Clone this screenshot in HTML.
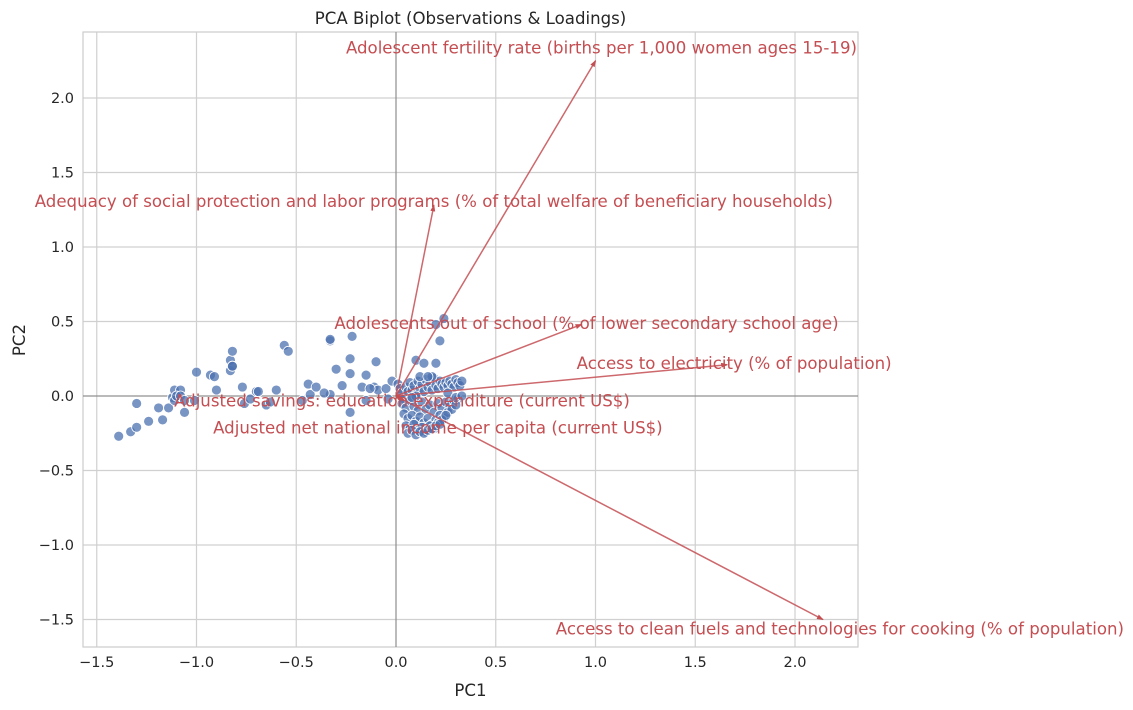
<!DOCTYPE html>
<html><head><meta charset="utf-8"><style>
body{margin:0;background:#fff;}
svg{display:block;font-family:"DejaVu Sans","Liberation Sans",sans-serif;}
</style></head><body>
<svg id="chart" width="1133" height="710" xmlns="http://www.w3.org/2000/svg">
<defs><marker id="ah" markerUnits="userSpaceOnUse" markerWidth="7" markerHeight="5" refX="6" refY="2.5" orient="auto"><path d="M0,0 L7,2.5 L0,5 Z" fill="#c44e52"/></marker></defs>
</svg>
<script>
const xTicks=[-1.5,-1.0,-0.5,0.0,0.5,1.0,1.5,2.0];
const yTicks=[-1.5,-1.0,-0.5,0.0,0.5,1.0,1.5,2.0];
const obsPC1=[-1.39,-1.33,-1.30,-1.24,-1.17,-1.30,-1.19,-1.14,-1.12,-1.11,-1.08,-1.11,-1.10,-1.08,-1.06,-1.06,-1.01,-1.00,-0.93,-0.90,-0.91,-0.83,-0.82,-0.83,-0.82,-0.82,-0.77,-0.76,-0.73,-0.70,-0.69,-0.65,-0.63,-0.60,-0.56,-0.54,-0.47,-0.43,-0.33,-0.33,-0.33,-0.23,-0.23,-0.22,-0.15,-0.17,-0.11,-0.10,-0.09,-0.23,-0.44,-0.40,-0.36,-0.30,-0.27,-0.13,-0.15,-0.05,-0.04,-0.02,
0.01,0.02,0.03,0.04,0.05,0.06,0.07,0.08,0.09,0.10,0.11,0.12,0.13,0.14,0.15,0.16,0.17,0.18,0.19,0.20,0.21,0.22,0.23,0.24,0.25,0.26,0.27,0.28,0.29,0.30,0.31,0.32,0.33,
0.03,0.05,0.07,0.09,0.11,0.13,0.15,0.17,0.19,0.21,0.23,0.25,0.27,0.29,0.31,
0.04,0.06,0.08,0.10,0.12,0.14,0.16,0.18,0.20,0.22,0.24,0.26,0.28,0.30,
0.05,0.07,0.09,0.11,0.13,0.15,0.17,0.19,0.21,0.23,0.25,
0.06,0.08,0.10,0.12,0.14,0.16,0.18,0.20,0.22,
0.10,0.14,0.18,0.20,0.24,0.12,0.16,0.22,0.20,0.10,0.08,0.26,0.30,0.33];
const obsPC2=[-0.27,-0.24,-0.21,-0.17,-0.16,-0.05,-0.08,-0.08,-0.01,0.04,0.04,-0.03,0.00,0.00,-0.03,-0.11,-0.03,0.16,0.14,0.04,0.13,0.24,0.30,0.17,0.20,0.20,0.06,-0.05,-0.02,0.03,0.03,-0.06,-0.04,0.04,0.34,0.30,-0.03,0.01,0.37,0.38,0.01,0.25,0.15,0.40,0.14,0.06,0.06,0.23,0.04,-0.11,0.08,0.06,0.02,0.18,0.07,0.05,-0.03,0.05,-0.02,0.10,
0.08,0.05,0.02,-0.02,0.06,0.03,0.09,0.04,0.07,0.01,0.10,0.05,0.08,0.03,0.11,0.06,0.09,0.04,0.12,0.07,0.05,0.10,0.08,0.06,0.09,0.07,0.10,0.08,0.06,0.11,0.09,0.07,0.10,
-0.05,-0.08,-0.03,-0.07,-0.10,-0.04,-0.09,-0.06,-0.11,-0.05,-0.08,-0.04,-0.07,-0.03,-0.02,
-0.12,-0.15,-0.13,-0.17,-0.14,-0.18,-0.15,-0.19,-0.16,-0.13,-0.15,-0.11,-0.09,-0.06,
-0.20,-0.22,-0.19,-0.23,-0.21,-0.24,-0.20,-0.22,-0.18,-0.16,-0.13,
-0.25,-0.23,-0.26,-0.24,-0.25,-0.23,-0.22,-0.20,-0.19,
0.24,0.22,0.13,0.22,0.52,0.13,0.13,0.37,0.48,0.00,-0.01,0.02,-0.01,0.00];
const loadingNames=["Adolescent fertility rate (births per 1,000 women ages 15-19)","Adequacy of social protection and labor programs (% of total welfare of beneficiary households)","Adolescents out of school (% of lower secondary school age)","Access to electricity (% of population)","Access to clean fuels and technologies for cooking (% of population)","Adjusted savings: education expenditure (current US$)","Adjusted net national income per capita (current US$)"];
const loadingPC1=[1.00,0.19,0.93,1.66,2.14,0.03,0.04];
const loadingPC2=[2.25,1.28,0.48,0.21,-1.50,-0.02,-0.03];
const labelPC1=[1.03,0.19,0.955,1.695,2.225,0.03,0.21];
const labelPC2=[2.34,1.31,0.49,0.22,-1.56,-0.03,-0.21];

const L=83,R=858,T=32,B=647;
const sx=v=>396+v*199.5, sy=v=>396-v*149;
const svg=document.getElementById('chart');const NS='http://www.w3.org/2000/svg';
function mk(tag,attrs,parent){const e=document.createElementNS(NS,tag);for(const k in attrs)e.setAttribute(k,attrs[k]);(parent||svg).appendChild(e);return e;}
mk('rect',{x:L,y:T,width:R-L,height:B-T,fill:'#fff'});
const grid=mk('g',{});


xTicks.forEach(t=>{mk('line',{x1:sx(t),x2:sx(t),y1:T,y2:B,stroke:'#d0d0d0','stroke-width':1.2},grid);
 const tx=mk('text',{x:sx(t),y:B+20,'text-anchor':'middle','font-size':14.5,fill:'#262626'});tx.textContent=t.toFixed(1).replace('-','\u2212');
 
 });
yTicks.forEach(t=>{mk('line',{x1:L,x2:R,y1:sy(t),y2:sy(t),stroke:'#d0d0d0','stroke-width':1.2},grid);
 const tx=mk('text',{x:L-9,y:sy(t)+5,'text-anchor':'end','font-size':14.5,fill:'#262626'});tx.textContent=t.toFixed(1).replace('-','\u2212');
 
 });
mk('rect',{x:L,y:T,width:R-L,height:B-T,fill:'none',stroke:'#cccccc','stroke-width':1.2});
mk('line',{x1:sx(0),x2:sx(0),y1:T,y2:B,stroke:'#808080','stroke-width':1});
mk('line',{x1:L,x2:R,y1:sy(0),y2:sy(0),stroke:'#808080','stroke-width':1});
const pts=mk('g',{});


obsPC1.forEach((v,i)=>{const c=mk('circle',{cx:sx(v),cy:sy(obsPC2[i]),r:5,fill:'#4c72b0','fill-opacity':0.75,stroke:'#fff','stroke-width':0.8},pts);
 
 });
loadingNames.forEach((n,i)=>{const l=mk('line',{x1:sx(0),y1:sy(0),x2:sx(loadingPC1[i]),y2:sy(loadingPC2[i]),stroke:'#c44e52','stroke-opacity':0.85,'stroke-width':1.5,'marker-end':'url(#ah)'});
 
 });
loadingNames.forEach((n,i)=>{const t=mk('text',{x:sx(labelPC1[i]),y:sy(labelPC2[i])+6,'text-anchor':'middle','font-size':16.6,fill:'#c44e52'});t.textContent=n;
 
 });
const title=mk('text',{x:(L+R)/2,y:24,'text-anchor':'middle','font-size':16.6,fill:'#262626'});title.textContent='PCA Biplot (Observations & Loadings)';


const xl=mk('text',{x:(L+R)/2,y:696,'text-anchor':'middle','font-size':16.6,fill:'#262626'});xl.textContent='PC1';


const yl=mk('text',{x:25,y:340,'text-anchor':'middle','font-size':16.6,fill:'#262626',transform:'rotate(-90 25 340)'});yl.textContent='PC2';


</script>
</body></html>
